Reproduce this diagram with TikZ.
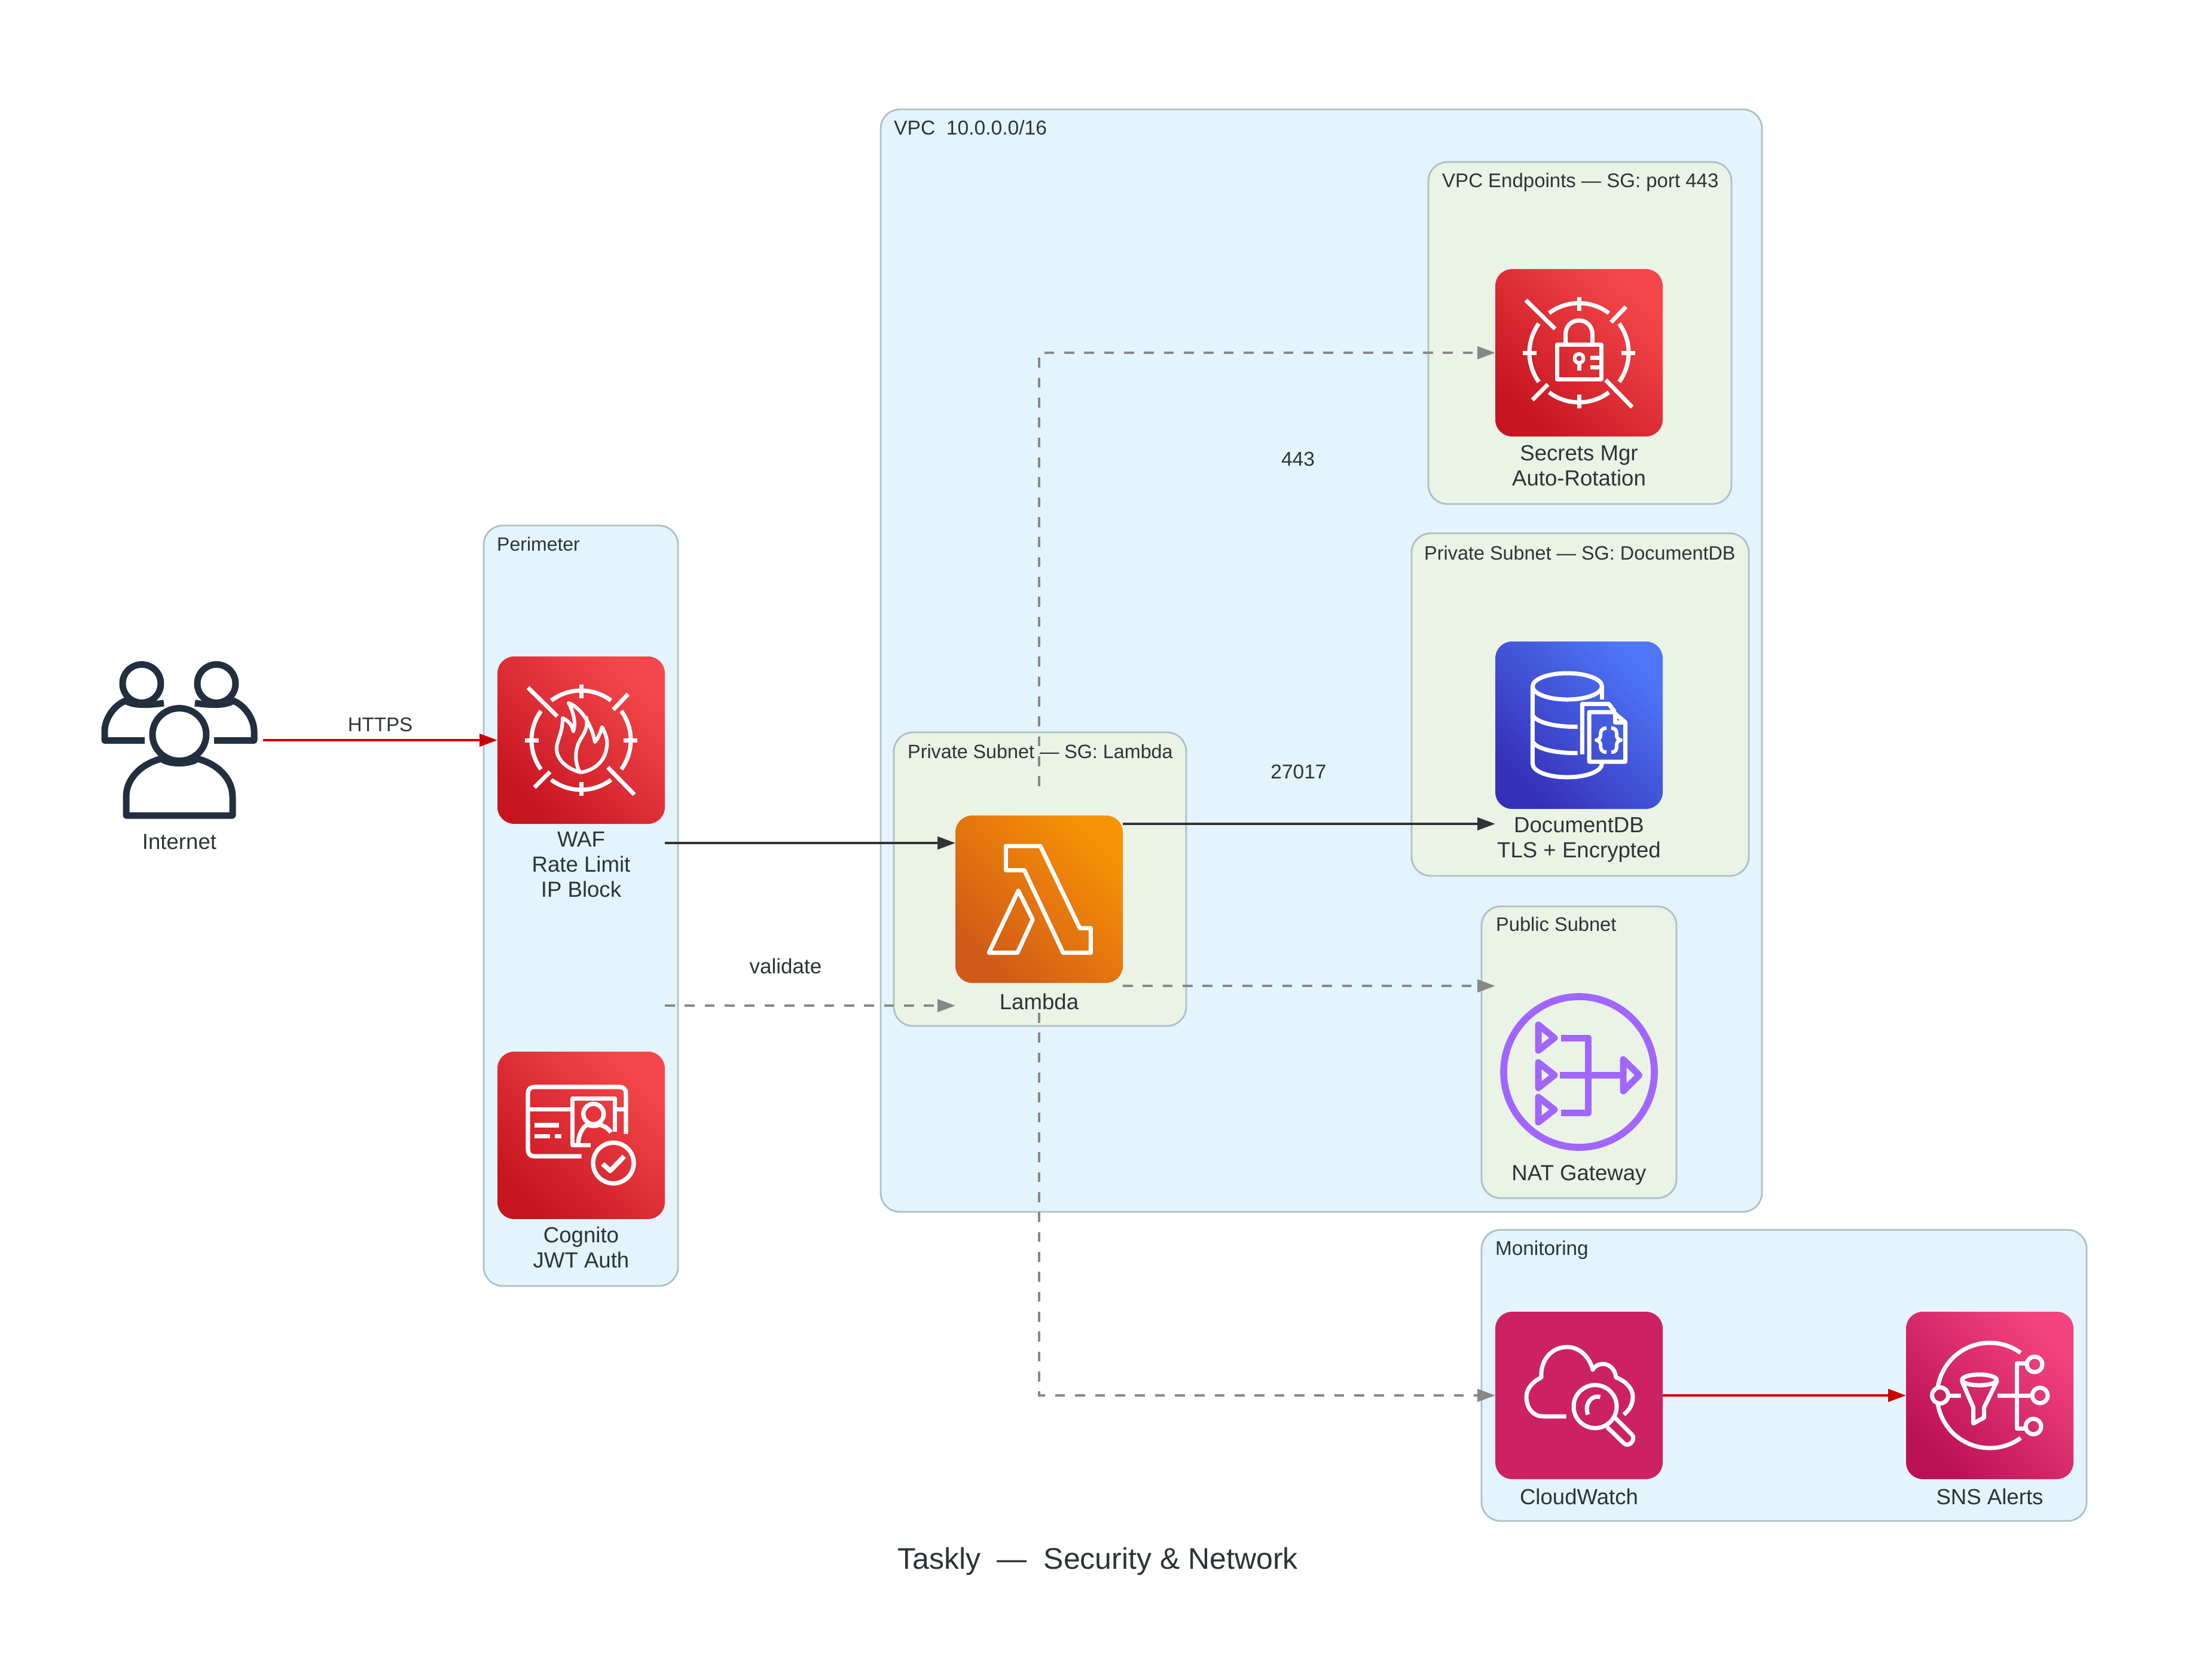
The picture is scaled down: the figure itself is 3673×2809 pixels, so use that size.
\documentclass[tikz,border=0pt]{standalone}
\usepackage{fontspec}
\setmainfont{Liberation Sans}
\usetikzlibrary{arrows.meta,calc,shadings}
\definecolor{txt}{HTML}{2D3436}
\definecolor{clusterblue}{HTML}{E3F4FC}
\definecolor{clustergreen}{HTML}{EBF3E7}
\definecolor{clusterline}{HTML}{B0BEC5}
\definecolor{natpurple}{HTML}{A166FF}
\definecolor{squid}{HTML}{232F3E}
\definecolor{edgeredc}{HTML}{CC0000}
\definecolor{edgedarkc}{HTML}{333333}
\definecolor{edgegrayc}{HTML}{888888}
\definecolor{rb}{HTML}{C71520}\definecolor{rt}{HTML}{F5474B}
\definecolor{ob}{HTML}{D05A18}\definecolor{ot}{HTML}{F79205}
\definecolor{bb}{HTML}{3530B8}\definecolor{bt}{HTML}{4E76F7}
\definecolor{pb}{HTML}{BA1056}\definecolor{pt}{HTML}{F4447F}
\definecolor{cwflat}{HTML}{CC2264}
\tikzset{
  clusterbase/.style={rounded corners=32pt,draw=clusterline,line width=2.8pt,inner sep=0pt,outer sep=0pt},
  outerbox/.style={clusterbase,fill=clusterblue},
  innerbox/.style={clusterbase,fill=clustergreen},
  iconbox/.style={rounded corners=28pt,minimum width=280pt,minimum height=280pt,inner sep=0pt,outer sep=0pt},
  gradbox/.style 2 args={iconbox,left color=#2,right color=#1,shading angle=-45},
  blanknode/.style={minimum width=280pt,minimum height=280pt,inner sep=0pt,outer sep=0pt},
  nodetext/.style={font=\fontsize{36.6}{42}\selectfont,text=txt,align=center,inner sep=0pt},
  grouptext/.style={font=\fontsize{#1}{38}\selectfont,text=txt,anchor=base west,inner sep=0pt},
  edgetext/.style={font=\fontsize{#1}{38}\selectfont,text=txt,inner sep=0pt},
  edgered/.style={color=edgeredc,line width=4.2pt,-{Triangle[length=30pt,width=21pt]}},
  edgedark/.style={color=edgedarkc,line width=4.2pt,-{Triangle[length=30pt,width=21pt]}},
  edgegray/.style={color=edgegrayc,line width=4.2pt,dash pattern=on 16.67pt off 16.67pt,-{Triangle[length=30pt,width=21pt]}},
  wl/.style={draw=white,line width=7pt,line join=round},
  pl/.style={draw=natpurple,line width=11pt,line join=round},
  ul/.style={draw=squid,line width=11pt,line join=round},
}
\newcommand{\targetmarks}{%
  \draw[wl] (53:83) arc[start angle=53,end angle=127,radius=83];
  \draw[wl] (-53:83) arc[start angle=-53,end angle=-127,radius=83];
  \draw[wl] (-36:83) arc[start angle=-36,end angle=36,radius=83];
  \draw[wl] (144:83) arc[start angle=144,end angle=216,radius=83];
  \draw[wl] (0,-93) -- (0,-70); \draw[wl] (0,70) -- (0,93);
  \draw[wl] (-94,0) -- (-71,0); \draw[wl] (71,0) -- (94,0);
  \draw[wl] (-89,-88) -- (-40,-40); \draw[wl] (44.6,45.5) -- (89,91);
  \draw[wl] (78.6,-77) -- (53.6,-51); \draw[wl] (-78,79) -- (-52,53);
}
\begin{document}
\begin{tikzpicture}[x=1pt,y=-1pt]
\useasboundingbox (0,0) rectangle (3673,2809);
\fill[white] (0,0) rectangle (3673,2809);
% clusters
\node[outerbox,minimum width=325pt,minimum height=1272pt] (perimeter) at (971.5,1515) {};
\node[outerbox,minimum width=1474pt,minimum height=1844pt] (vpc) at (2210,1105) {};
\node[innerbox,minimum width=507pt,minimum height=572pt] (endpoints) at (2642.5,557) {};
\node[innerbox,minimum width=564pt,minimum height=573pt] (docsubnet) at (2643,1178.5) {};
\node[innerbox,minimum width=489pt,minimum height=491pt] (lambdasubnet) at (1739.5,1470.5) {};
\node[innerbox,minimum width=326pt,minimum height=488pt] (publicsubnet) at (2641,1760) {};
\node[outerbox,minimum width=1012pt,minimum height=487pt] (monitoring) at (2984,2300.5) {};
% cluster labels
\node[grouptext=32] (tperimeter) at (831,921) {Perimeter};
\node[grouptext=33.6] (tvpc) at (1495,225) {VPC\ \ 10.0.0.0/16};
\node[grouptext=33] (tendpoints) at (2412,313) {VPC Endpoints — SG: port 443};
\node[grouptext=32.4] (tdocsubnet) at (2382,936) {Private Subnet — SG: DocumentDB};
\node[grouptext=32.3] (tlambdasubnet) at (1518,1268) {Private Subnet — SG: Lambda};
\node[grouptext=32.6] (tpublic) at (2502,1557) {Public Subnet};
\node[grouptext=33.3] (tmonitoring) at (2501,2099) {Monitoring};
% service nodes
\node[blanknode] (internet) at (300,1238) {};
\node[gradbox={rb}{rt}] (waf) at (972,1238) {};
\node[gradbox={rb}{rt}] (cognito) at (972,1899) {};
\node[gradbox={ob}{ot}] (lambda) at (1738,1504) {};
\node[gradbox={rb}{rt}] (secrets) at (2641,590) {};
\node[gradbox={bb}{bt}] (documentdb) at (2641,1213) {};
\node[blanknode] (nat) at (2641,1793) {};
\node[iconbox,fill=cwflat] (cloudwatch) at (2641,2334) {};
\node[gradbox={pb}{pt}] (sns) at (3328,2334) {};
% connectors
\draw[edgered] (internet.east) -- (waf.west);
\draw[edgedark] ([yshift=-172pt]waf.east) -- ([yshift=94pt]lambda.west);
\draw[edgegray] ([yshift=217pt]cognito.east) -- ([yshift=-178pt]lambda.west);
\draw[edgedark] ([yshift=126pt]lambda.east) -- ([yshift=-165pt]documentdb.west);
\draw[edgegray] ([yshift=-145pt]lambda.east) -- ([yshift=144pt]nat.west);
\draw[edgegray,shorten <=49pt] (lambda.north) |- (secrets.west);
\draw[edgegray,shorten <=50pt] (lambda.south) |- (cloudwatch.west);
\draw[edgered] (cloudwatch.east) -- (sns.west);
% edge labels
\node[edgetext=33] (lhttps) at (636,1212) {HTTPS};
\node[edgetext=35] (lvalidate) at (1314,1616) {validate};
\node[edgetext=33.5] (l443) at (2171,768) {443};
\node[edgetext=33.5] (l27017) at (2172,1291) {27017};
% node labels
\node[nodetext] (tinternet) at (300,1408) {Internet};
\node[nodetext] (twaf) at (972,1446) {WAF\\Rate Limit\\IP Block};
\node[nodetext] (tcognito) at (972,2086) {Cognito\\JWT Auth};
\node[nodetext] (tlambda) at (1738,1675) {Lambda};
\node[nodetext] (tsecrets) at (2641,779) {Secrets Mgr\\Auto-Rotation};
\node[nodetext] (tdocumentdb) at (2641,1405) {DocumentDB\\TLS + Encrypted};
\node[nodetext] (tnat) at (2641,1965) {NAT Gateway};
\node[nodetext] (tcloudwatch) at (2641,2503) {CloudWatch};
\node[nodetext] (tsns) at (3328,2503) {SNS Alerts};
\node[font=\fontsize{50}{58}\selectfont,text=txt,inner sep=0pt] (title) at (1836,2612) {Taskly\ \ —\ \ Security \& Network};
% Internet icon
\begin{scope}[shift={(internet.center)}]
  \draw[ul] (0,-9.4) circle[x radius=45,y radius=44];
  \draw[ul] (-63,-94.6) circle[radius=32];
  \draw[ul] (62,-94.6) circle[radius=32];
  \draw[ul] (-89,126) -- (-89,95) .. controls (-89,65) and (-65,40) .. (-30,31) .. controls (-18,41) and (18,41) .. (30,31) .. controls (65,40) and (89,65) .. (89,95) -- (89,126) -- cycle;
  \draw[ul] (-58,0.5) -- (-125,0.5) -- (-125,-15) .. controls (-125,-35) and (-110,-58) .. (-90,-66) .. controls (-78,-58) and (-55,-58) .. (-26,-62);
  \draw[ul] (58,0.5) -- (125,0.5) -- (125,-15) .. controls (125,-35) and (110,-58) .. (90,-66) .. controls (78,-58) and (55,-58) .. (26,-62);
\end{scope}
% WAF icon
\begin{scope}[shift={(waf.center)}]
  \targetmarks
  \draw[wl,line width=6pt] (0,54) .. controls (-25,48) and (-41,32) .. (-41,14)
    .. controls (-41,0) and (-31,-10) .. (-31,-37)
    .. controls (-24,-34) and (-16,-28) .. (-13,-15)
    .. controls (-8,-30) and (-14,-50) .. (-21,-62)
    .. controls (0,-55) and (18,-25) .. (23,3)
    .. controls (28,-2) and (32,-12) .. (35,-22)
    .. controls (44,-5) and (45,5) .. (42,16)
    .. controls (38,38) and (20,50) .. (0,54);
  \draw[wl,line width=6pt] (-2,54) .. controls (-12,35) and (-10,15) .. (-2,0) .. controls (8,-15) and (12,-25) .. (8,-40);
\end{scope}
% Cognito icon
\begin{scope}[shift={(cognito.center)}]
  \draw[wl,line width=7.3pt] (0.7,35) -- (-78,35) .. controls (-85,35) and (-89,31) .. (-89,24) -- (-89,-70) .. controls (-89,-77) and (-85,-81) .. (-78,-81) -- (64,-81) .. controls (71,-81) and (75,-77) .. (75,-70) -- (75,-2.3);
  \draw[wl,line width=7.3pt] (-89,-43.3) -- (-18,-43.3);
  \draw[wl,line width=7.3pt] (60,-43.3) -- (75,-43.3);
  \draw[wl,line width=7.3pt] (15.7,16.7) -- (-14.3,16.7) -- (-14.3,-61.7) -- (56.7,-61.7) -- (56.7,-5.7);
  \draw[wl,line width=7.3pt] (20.7,-35.7) circle[radius=17];
  \draw[wl,line width=7.3pt] (-5,16) .. controls (-5,0) and (2,-14) .. (11,-18) .. controls (18,-15) and (24,-15) .. (31,-18) .. controls (40,-15) and (46,-11) .. (50,-5);
  \draw[wl,line width=7.3pt] (54,46.3) circle[radius=34];
  \draw[wl,line width=8pt] (36,47.7) -- (48.7,59.3) -- (72,35);
  \fill[white] (-78,-21) rectangle (-37,-13.5);
  \fill[white] (-78,-2.3) rectangle (-52,5.3);
  \fill[white] (-44,-2.3) rectangle (-33,5.3);
\end{scope}
% Lambda icon
\begin{scope}[shift={(lambda.center)}]
  \draw[wl] (-55.7,-89) -- (2,-89) -- (68,48.3) -- (86.3,48.3) -- (86.3,89.7) -- (40.3,89.7) -- (-24.7,-48.3) -- (-55.7,-48.3) -- cycle;
  \draw[wl] (-84,89.7) -- (-36.3,89.7) -- (-10.7,34) -- (-34.7,-14.3) -- cycle;
\end{scope}
% Secrets icon
\begin{scope}[shift={(secrets.center)}]
  \targetmarks
  \draw[wl] (-37,-14) rectangle (37,44);
  \draw[wl] (-22.5,-14) -- (-22.5,-30) .. controls (-22.5,-62) and (22.5,-62) .. (22.5,-30) -- (22.5,-14);
  \draw[wl,line width=6pt] (0,9.5) circle[radius=7.5];
  \draw[wl] (0,17) -- (0,30);
  \draw[wl] (19,8) -- (37,8);
  \draw[wl] (19,24) -- (37,24);
\end{scope}
% DocumentDB icon
\begin{scope}[shift={(documentdb.center)}]
  \draw[wl] (-19.6,-65) circle[x radius=58,y radius=22];
  \draw[wl] (-77.6,-65) -- (-77.6,64) .. controls (-77.6,78) and (-50,87) .. (-19.6,87) .. controls (10,87) and (38.4,78) .. (38.4,64);
  \draw[wl] (38.4,-65) -- (38.4,-43);
  \draw[wl] (-77.6,-16.5) .. controls (-70,-4) and (-40,2.7) .. (-2.5,2.7);
  \draw[wl] (-77.6,27.5) .. controls (-70,40) and (-40,46.7) .. (-2.5,46.7);
  \draw[wl] (5.4,48.6) -- (5.4,-35.6) -- (50,-35.6) -- (60,-22);
  \draw[wl] (17,61) -- (17,-22) -- (57,-22) -- (77.5,-5) -- (77.5,61) -- cycle;
  \draw[wl] (60,-22) -- (60,-5) -- (77.5,-5);
  \draw[wl,line width=6pt] (46,5) .. controls (38,5) and (36,9) .. (36,17) .. controls (36,21) and (34,24) .. (29,25) .. controls (34,26) and (36,29) .. (36,33) .. controls (36,41) and (38,45) .. (46,45);
  \draw[wl,line width=6pt] (54,5) .. controls (62,5) and (63,9) .. (63,17) .. controls (63,21) and (65,24) .. (70,25) .. controls (65,26) and (63,29) .. (63,33) .. controls (63,41) and (62,45) .. (54,45);
\end{scope}
% NAT icon
\begin{scope}[shift={(nat.center)}]
  \draw[pl,line width=11.7pt] (0,0) circle[radius=126];
  \draw[pl] (-68,-79) -- (-68,-36) -- (-41,-57) -- cycle;
  \draw[pl] (-68,-16) -- (-68,26.7) -- (-41,5.3) -- cycle;
  \draw[pl] (-68,42) -- (-68,84) -- (-41,63) -- cycle;
  \draw[pl] (-30,-57) -- (15.7,-57) -- (15.7,68.7) -- (-30,68.7);
  \draw[pl] (-32,5.3) -- (69,5.3);
  \draw[pl] (74,-21) -- (74,32) -- (100.7,5.3) -- cycle;
\end{scope}
% CloudWatch icon
\begin{scope}[shift={(cloudwatch.center)}]
  \draw[wl] (-21.4,35) -- (-60,35) .. controls (-78,35) and (-88,20) .. (-88,2) .. controls (-88,-12) and (-76,-24) .. (-63,-30) .. controls (-65,-60) and (-45,-81) .. (-20,-81) .. controls (2,-81) and (18,-63) .. (23,-43) .. controls (30,-57) and (58,-58) .. (62,-30) .. controls (78,-24) and (90,-12) .. (90,2) .. controls (90,14) and (85,24) .. (75,32);
  \draw[wl] (27,18.6) circle[radius=36];
  \draw[wl] (35.5,2.7) .. controls (22,-2) and (8,14) .. (15,32);
  \draw[wl] (60,37) -- (89,66) .. controls (95,74) and (84,88) .. (75,80) -- (47,53);
\end{scope}
% SNS icon
\begin{scope}[shift={(sns.center)}]
  \draw[wl] (54:88) arc[start angle=54,end angle=170,radius=88];
  \draw[wl] (-54:88) arc[start angle=-54,end angle=-170,radius=88];
  \draw[wl] (-83,0) circle[radius=13.5];
  \draw[wl] (-68,0) -- (-48,0);
  \draw[wl] (-17.4,-26) circle[x radius=29,y radius=9];
  \draw[wl] (-47,-25) -- (-27.5,20) -- (-27.5,47) -- (-9.4,37) -- (-9.4,20) -- (12.7,-25);
  \draw[wl] (12.7,0) -- (70,0);
  \draw[wl] (60,-54) -- (45,-54) -- (45,55) -- (58,55);
  \draw[wl] (75,-52) circle[radius=13];
  \draw[wl] (84,0) circle[radius=13];
  \draw[wl] (73,52) circle[radius=13];
\end{scope}
\end{tikzpicture}
\end{document}
